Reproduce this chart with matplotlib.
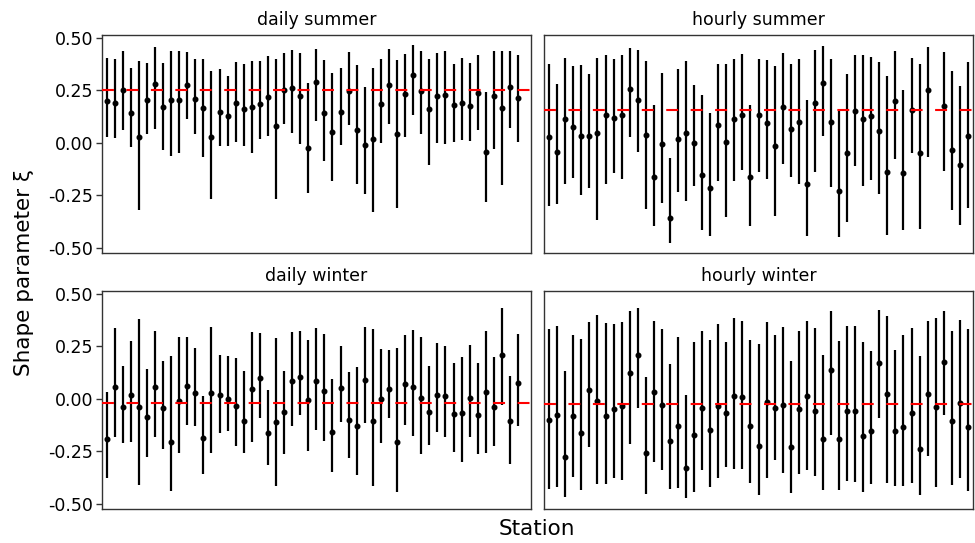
import numpy as np
import matplotlib
matplotlib.use("Agg")
import matplotlib.pyplot as plt

nan = np.nan

# stations 1..53 (NaN = station missing in that panel)
stations = np.arange(1, 54)

panel_names = ["daily summer", "hourly summer", "daily winter", "hourly winter"]
ref_level = [0.25, 0.155, -0.02, -0.024]  # red dashed line per panel

ds_est = [0.200, 0.191, 0.251, 0.143, 0.025, 0.202, 0.280, 0.172, 0.202, 0.202,
          0.272, 0.210, 0.165, 0.025, 0.148, 0.127, 0.188, 0.159, 0.172, 0.183,
          0.218, 0.077, 0.251, 0.262, 0.224, -0.026, 0.289, 0.143, 0.051, 0.145,
          0.248, 0.061, -0.010, 0.018, 0.183, 0.273, 0.042, 0.230, 0.320, 0.245,
          0.158, 0.221, 0.227, 0.178, 0.189, 0.176, 0.234, -0.045, 0.221, 0.164,
          0.264, 0.213, nan]
ds_lo = [0.025, 0.023, 0.061, -0.020, -0.318, 0.042, 0.067, -0.036, -0.061, -0.047,
         0.115, 0.042, -0.069, -0.270, -0.018, -0.017, 0.004, -0.017, -0.049, 0.017,
         0.034, -0.270, 0.091, 0.048, -0.004, -0.240, 0.104, -0.088, -0.183, -0.009,
         0.085, -0.197, -0.246, -0.330, -0.001, 0.089, -0.310, 0.025, 0.131, 0.042,
         -0.105, -0.002, -0.007, 0.004, 0.012, 0.010, 0.062, -0.284, -0.028, -0.202,
         0.072, 0.002, nan]
ds_hi = [0.405, 0.397, 0.435, 0.356, 0.390, 0.379, 0.454, 0.379, 0.435, 0.435,
         0.430, 0.400, 0.400, 0.341, 0.351, 0.316, 0.384, 0.376, 0.390, 0.389,
         0.411, 0.400, 0.427, 0.443, 0.428, 0.283, 0.444, 0.392, 0.332, 0.357,
         0.430, 0.370, 0.267, 0.354, 0.398, 0.444, 0.394, 0.424, 0.465, 0.436,
         0.400, 0.428, 0.435, 0.373, 0.405, 0.381, 0.417, 0.240, 0.436, 0.438,
         0.438, 0.416, nan]

hs_est = [0.029, -0.042, 0.112, 0.074, 0.034, 0.031, 0.044, 0.132, 0.116, 0.134,
          0.256, 0.203, 0.036, -0.164, -0.004, -0.360, 0.017, 0.048, -0.001, -0.153,
          -0.216, 0.083, 0.004, 0.112, 0.132, -0.164, 0.131, 0.094, -0.018, 0.170,
          0.066, 0.096, -0.197, 0.191, 0.284, 0.099, -0.229, -0.050, 0.151, 0.115,
          0.129, 0.055, -0.139, 0.200, -0.143, 0.156, -0.051, 0.252, nan, 0.173,
          -0.037, -0.107, 0.031]
hs_lo = [-0.302, -0.292, -0.196, -0.170, -0.251, -0.215, -0.370, -0.196, -0.143, -0.175,
         0.028, -0.044, -0.316, -0.397, -0.286, -0.479, -0.234, -0.276, -0.205, -0.417,
         -0.444, -0.181, -0.355, -0.180, -0.131, -0.398, -0.139, -0.172, -0.351, -0.101,
         -0.165, -0.197, -0.444, -0.139, 0.032, -0.211, -0.447, -0.379, -0.110, -0.207,
         -0.178, -0.245, -0.439, -0.077, -0.417, -0.050, -0.410, -0.070, nan, -0.137,
         -0.322, -0.392, -0.310]
hs_hi = [0.376, 0.278, 0.403, 0.367, 0.371, 0.329, 0.401, 0.415, 0.397, 0.415,
         0.449, 0.440, 0.390, 0.177, 0.330, -0.072, 0.349, 0.390, 0.273, 0.229,
         0.139, 0.376, 0.373, 0.398, 0.424, 0.178, 0.400, 0.392, 0.365, 0.427,
         0.373, 0.400, 0.205, 0.440, 0.460, 0.400, 0.153, 0.325, 0.416, 0.416,
         0.409, 0.386, 0.315, 0.438, 0.251, 0.405, 0.373, 0.455, nan, 0.432,
         0.340, 0.268, 0.382]

dw_est = [-0.192, 0.055, -0.041, 0.016, -0.039, -0.088, 0.055, -0.046, -0.208, -0.013,
          0.061, 0.027, -0.189, 0.028, 0.016, -0.002, -0.035, -0.104, 0.044, 0.099,
          -0.165, -0.110, -0.065, 0.083, 0.101, -0.008, 0.082, 0.038, -0.157, 0.049,
          -0.102, -0.128, 0.091, -0.107, -0.003, 0.044, -0.208, 0.071, 0.055, 0.002,
          -0.063, 0.017, 0.011, -0.072, -0.066, 0.003, -0.079, 0.030, -0.038, 0.209,
          -0.107, 0.074, nan]
dw_lo = [-0.375, -0.180, -0.213, -0.205, -0.411, -0.276, -0.181, -0.238, -0.438, -0.257,
         -0.126, -0.129, -0.356, -0.257, -0.162, -0.154, -0.224, -0.258, -0.205, -0.090,
         -0.317, -0.416, -0.263, -0.128, -0.079, -0.247, -0.148, -0.200, -0.351, -0.110,
         -0.282, -0.362, -0.118, -0.417, -0.209, -0.093, -0.446, -0.126, -0.178, -0.263,
         -0.219, -0.159, -0.183, -0.255, -0.302, -0.183, -0.261, -0.258, -0.224, -0.031,
         -0.312, -0.131, nan]
dw_hi = [0.031, 0.334, 0.157, 0.274, 0.380, 0.143, 0.320, 0.180, 0.202, 0.293,
         0.294, 0.243, 0.013, 0.339, 0.208, 0.202, 0.195, 0.134, 0.318, 0.313,
         0.039, 0.288, 0.132, 0.318, 0.320, 0.280, 0.335, 0.309, 0.094, 0.249,
         0.126, 0.150, 0.343, 0.331, 0.236, 0.233, 0.239, 0.301, 0.329, 0.294,
         0.157, 0.266, 0.252, 0.172, 0.200, 0.254, 0.170, 0.321, 0.198, 0.430,
         0.109, 0.310, nan]

hw_est = [-0.102, -0.080, -0.279, -0.083, -0.161, 0.043, -0.013, -0.083, -0.049, -0.036,
          0.124, 0.208, -0.258, 0.033, -0.031, -0.200, -0.131, -0.332, -0.175, -0.046,
          -0.150, -0.036, -0.068, 0.013, 0.008, -0.131, -0.225, -0.017, -0.046, -0.031,
          -0.228, -0.047, 0.011, -0.057, -0.191, 0.135, -0.191, -0.058, -0.058, -0.178,
          -0.156, 0.172, 0.024, -0.153, -0.134, -0.068, -0.239, 0.020, -0.041, 0.173,
          -0.104, -0.022, -0.137]
hw_lo = [-0.428, -0.420, -0.468, -0.372, -0.435, -0.230, -0.408, -0.408, -0.376, -0.386,
         -0.217, -0.044, -0.452, -0.301, -0.337, -0.428, -0.425, -0.474, -0.444, -0.340,
         -0.419, -0.378, -0.326, -0.334, -0.335, -0.400, -0.458, -0.376, -0.291, -0.353,
         -0.449, -0.356, -0.340, -0.370, -0.436, -0.172, -0.436, -0.392, -0.397, -0.444,
         -0.405, -0.093, -0.400, -0.416, -0.416, -0.400, -0.460, -0.274, -0.419, -0.079,
         -0.411, -0.375, -0.438]
hw_hi = [0.331, 0.345, 0.134, 0.302, 0.282, 0.365, 0.397, 0.359, 0.354, 0.364,
         0.419, 0.431, 0.102, 0.369, 0.331, 0.165, 0.294, 0.017, 0.271, 0.323,
         0.277, 0.354, 0.269, 0.383, 0.369, 0.279, 0.261, 0.367, 0.304, 0.340,
         0.180, 0.324, 0.369, 0.337, 0.209, 0.417, 0.272, 0.348, 0.348, 0.271,
         0.227, 0.420, 0.394, 0.233, 0.301, 0.334, 0.203, 0.369, 0.383, 0.419,
         0.323, 0.376, 0.332]

series = [(ds_est, ds_lo, ds_hi), (hs_est, hs_lo, hs_hi),
          (dw_est, dw_lo, dw_hi), (hw_est, hw_lo, hw_hi)]

plt.rcParams["axes.unicode_minus"] = False
plt.rcParams["lines.scale_dashes"] = False

W, H = 975, 543
fig = plt.figure(figsize=(W / 100, H / 100), dpi=100)

# panel boxes in pixels: (left, top, right, bottom)
boxes = [(101.7, 35, 531, 253.3), (544.3, 35, 972.7, 253.3),
         (101.7, 291, 531, 509.3), (544.3, 291, 972.7, 509.3)]
axes = []
for i, (l, t, r, b) in enumerate(boxes):
    kw = {} if i == 0 else {"sharex": axes[0], "sharey": axes[0]}
    ax = fig.add_axes([l / W, 1 - b / H, (r - l) / W, (b - t) / H], **kw)
    axes.append(ax)

for i, ax in enumerate(axes):
    est, lo, hi = (np.asarray(a, dtype=float) for a in series[i])
    ax.errorbar(stations, est, yerr=[est - lo, hi - est], fmt="o", color="black",
                ms=3.3, elinewidth=1.6, capsize=0, zorder=2)
    ax.axhline(ref_level[i], color="#ff0000", lw=1.5, dashes=(8.6, 9.0), zorder=3)
    ax.set_title(panel_names[i], fontsize=12.5, pad=7)
    for s in ax.spines.values():
        s.set_color("#333333")
        s.set_linewidth(1.0)
    ax.tick_params(axis="x", bottom=False, labelbottom=False)
    if i % 2 == 0:
        ax.tick_params(axis="y", length=4, width=1.0, color="#333333",
                       labelsize=12.5, pad=2, labelcolor="black")
    else:
        ax.tick_params(axis="y", left=False, labelleft=False)

axes[0].set_xlim(0.4, 53.6)
axes[0].set_yticks([-0.5, -0.25, 0.0, 0.25, 0.5])
axes[0].yaxis.set_major_formatter(matplotlib.ticker.FormatStrFormatter("%.2f"))

fig.text(537 / W, 1 - 529 / H, "Station", ha="center", va="center", fontsize=15.5)
fig.text(24 / W, 1 - 272 / H, "Shape parameter ξ", ha="center", va="center",
         rotation=90, fontsize=15.5)

fig.savefig("out.png", dpi=100)
